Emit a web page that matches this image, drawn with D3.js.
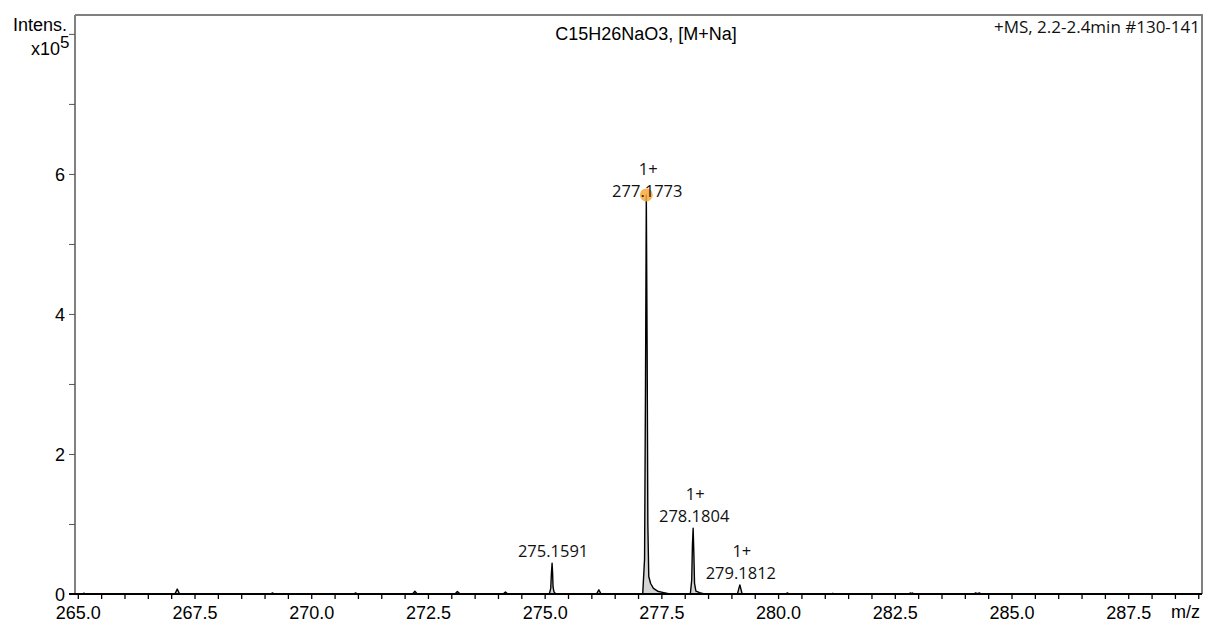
<!DOCTYPE html>
<html>
<head>
<meta charset="utf-8">
<script src="https://cdn.jsdelivr.net/npm/d3@7"></script>
<style>
  html, body { margin: 0; padding: 0; background: #fff; }
  svg { display: block; }
  .ax text { font-family: "Liberation Sans", Arial, sans-serif; font-size: 18px; fill: #000; }
  .lbl { font-family: "Open Sans", sans-serif; font-size: 16.5px; fill: #111; }
</style>
</head>
<body>
<svg id="chart" width="1207" height="622"></svg>
<script>
// Profile spectrum: m/z and intensity (x10^5) sampled along the trace
const mzProfile = [
  264.95, 265.10, 265.13, 265.16,
  267.08, 267.13, 267.18,
  269.13, 269.17, 269.21,
  270.91, 270.95, 270.99,
  272.17, 272.22, 272.27,
  273.08, 273.13, 273.19,
  274.11, 274.16, 274.21,
  275.10, 275.13, 275.145, 275.1591, 275.17, 275.18, 275.20, 275.24,
  276.11, 276.16, 276.21,
  277.10, 277.14, 277.16, 277.1773, 277.195, 277.21, 277.23, 277.27, 277.33, 277.42, 277.55, 277.68,
  278.12, 278.15, 278.165, 278.1804, 278.195, 278.21, 278.24, 278.32, 278.42,
  279.13, 279.16, 279.1812, 279.20, 279.23,
  280.16, 280.20, 280.24,
  281.13, 281.17, 281.21,
  282.80, 282.83, 282.86, 282.88, 282.91,
  284.19, 284.23, 284.27, 284.31, 284.35,
  289.08
];
const intensityProfile = [
  0, 0, 0.012, 0,
  0, 0.07, 0,
  0, 0.015, 0,
  0, 0.015, 0,
  0, 0.04, 0,
  0, 0.035, 0,
  0, 0.03, 0,
  0, 0.08, 0.30, 0.44, 0.30, 0.10, 0.03, 0,
  0, 0.06, 0,
  0, 0.5, 3.0, 5.70, 3.5, 1.0, 0.25, 0.15, 0.08, 0.04, 0.02, 0,
  0, 0.2, 0.7, 0.94, 0.6, 0.15, 0.04, 0.02, 0,
  0, 0.08, 0.13, 0.08, 0,
  0, 0.015, 0,
  0, 0.01, 0,
  0, 0.015, 0.005, 0.015, 0,
  0, 0.015, 0.004, 0.015, 0,
  0
];

// Annotated peaks
const peakMz = [275.1591, 277.1773, 278.1804, 279.1812];
const peakIntensity = [0.44, 5.70, 0.94, 0.13];
const peakCharge = ["", "1+", "1+", "1+"];
const markedPeak = 277.1773;

const xTickValues = d3.range(265, 289.01, 0.5);
const yTickValues = [0, 1, 2, 3, 4, 5, 6, 7, 8];

const titleText = "C15H26NaO3, [M+Na]";
const scanText = "+MS, 2.2-2.4min #130-141";

const svg = d3.select("#chart");
const plotL = 75, plotR = 1202, plotT = 15, plotB = 594;

const x = d3.scaleLinear().domain([264.94, 289.08]).range([plotL, plotR]);
const y = d3.scaleLinear().domain([0, 8.27]).range([plotB, plotT]);

svg.append("clipPath").attr("id", "plotClip")
  .append("rect").attr("x", plotL).attr("y", plotT - 2).attr("width", plotR - plotL).attr("height", plotB - plotT + 2);

const pts = mzProfile.map((m, i) => [m, intensityProfile[i]]);

const plot = svg.append("g").attr("clip-path", "url(#plotClip)");
plot.append("path")
  .datum(pts)
  .attr("fill", "#d4d4d4")
  .attr("d", d3.area().x(d => x(d[0])).y0(y(0)).y1(d => y(d[1])));
plot.append("path")
  .datum(pts)
  .attr("fill", "none")
  .attr("stroke", "#000")
  .attr("stroke-width", 1.4)
  .attr("stroke-linejoin", "round")
  .attr("d", d3.line().x(d => x(d[0])).y(d => y(d[1])));

// Frame (top and right)
svg.append("path")
  .attr("d", `M${plotL},${plotT}H${plotR}V${plotB}`)
  .attr("fill", "none").attr("stroke", "#808080").attr("stroke-width", 2);

// Y axis
const yAxis = svg.append("g").attr("class", "ax")
  .attr("transform", `translate(${plotL},0)`)
  .call(d3.axisLeft(y).tickValues(yTickValues).tickSize(6).tickPadding(4)
    .tickFormat(d => (d % 2 === 0 && d < 8) ? d : ""));
yAxis.select(".domain").attr("stroke", "#808080").attr("stroke-width", 2)
  .attr("d", `M0,${plotT}V${plotB}`);
yAxis.selectAll(".tick line").attr("stroke", "#555");
yAxis.selectAll(".tick text").attr("dy", "0.36em");

// X axis
const xAxis = svg.append("g").attr("class", "ax")
  .attr("transform", `translate(0,${plotB})`)
  .call(d3.axisBottom(x).tickValues(xTickValues).tickSize(5).tickPadding(3)
    .tickFormat(d => (Math.abs(d / 2.5 - Math.round(d / 2.5)) < 1e-6 && d < 288) ? d.toFixed(1) : ""));
xAxis.select(".domain").attr("stroke", "#000").attr("stroke-width", 2)
  .attr("d", `M${plotL - 6},0H${plotR}`);
xAxis.selectAll(".tick line").attr("stroke", "#000").attr("stroke-width", 1.3);
xAxis.selectAll(".tick text").attr("dy", "0.95em");

// Axis titles
const ax = svg.append("g").attr("class", "ax");
ax.append("text").attr("x", 67).attr("y", 31).attr("text-anchor", "end")
  .style("font-size", "18px").text("Intens.");
ax.append("text").attr("x", 60).attr("y", 55).attr("text-anchor", "end")
  .style("font-size", "18px").text("x10");
ax.append("text").attr("x", 60).attr("y", 48).style("font-size", "17px").text("5");
ax.append("text").attr("x", 1200).attr("y", 618).attr("text-anchor", "end").text("m/z");

// Title and scan info
ax.append("text").attr("x", 646).attr("y", 40).attr("text-anchor", "middle").text(titleText);
svg.append("text").attr("class", "lbl").attr("x", 1200).attr("y", 33)
  .style("font-size", "17px").attr("text-anchor", "end").text(scanText);

// Marked peak
svg.append("circle")
  .attr("cx", x(markedPeak)).attr("cy", y(peakIntensity[peakMz.indexOf(markedPeak)]))
  .attr("r", 6.5).attr("fill", "#f7a93c").attr("fill-opacity", 0.85);

// Peak labels
peakMz.forEach((m, i) => {
  const marked = m === markedPeak;
  const base = y(peakIntensity[i]) + (marked ? 2 : -6);
  svg.append("text").attr("class", "lbl").attr("x", x(m) + 1).attr("y", base)
    .attr("text-anchor", "middle").text(m.toFixed(4));
  if (peakCharge[i]) {
    svg.append("text").attr("class", "lbl").attr("x", x(m) + 2).attr("y", base - 22)
      .attr("text-anchor", "middle").text(peakCharge[i]);
  }
});
</script>
</body>
</html>
